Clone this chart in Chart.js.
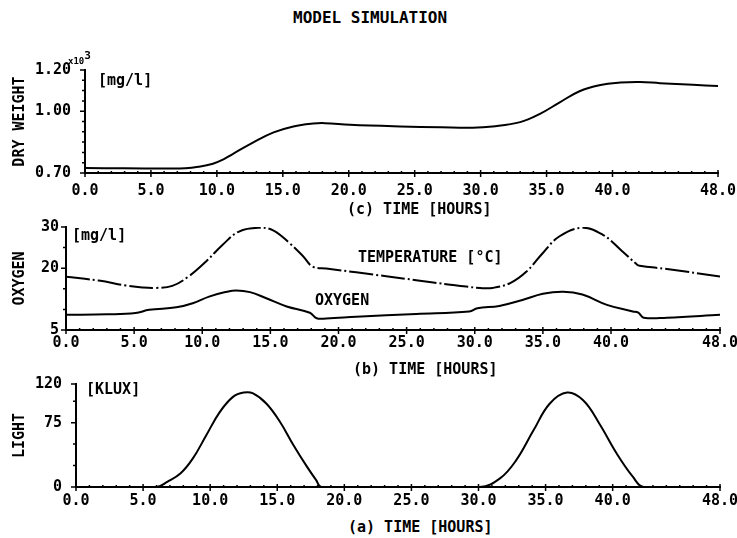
<!DOCTYPE html>
<html>
<head>
<meta charset="utf-8">
<script src="https://cdn.jsdelivr.net/npm/chart.js@4.4.0/dist/chart.umd.min.js"></script>
<style>
  body { margin: 0; background: #fff; }
  #fig { position: relative; width: 737px; height: 538px; background: #fff; overflow: hidden; }
  #fig canvas { position: absolute; left: 0; }
  .lbl { position: absolute; font: bold 15px "DejaVu Sans Mono", monospace; line-height: 15px; white-space: pre; color: #000; }
  .sup { position: relative; top: -5px; font-size: 11px; }
</style>
</head>
<body>
<div id="fig">
  <canvas id="dryChart" width="737" height="150" style="top:50px"></canvas>
  <canvas id="oxyChart" width="737" height="150" style="top:205px"></canvas>
  <canvas id="lightChart" width="737" height="155" style="top:360px"></canvas>

  <div class="lbl" style="left:293px;top:10px;font-size:16px">MODEL SIMULATION</div>

  <div class="lbl" style="left:68px;top:53px;font-size:9px">x10<span class="sup">3</span></div>
  <div class="lbl" style="left:98px;top:73px">[mg/l]</div>
  <div class="lbl" style="left:347px;top:202px">(c) TIME [HOURS]</div>

  <div class="lbl" style="left:72px;top:228px">[mg/l]</div>
  <div class="lbl" style="left:358px;top:250px">TEMPERATURE [°C]</div>
  <div class="lbl" style="left:315px;top:293px">OXYGEN</div>
  <div class="lbl" style="left:353px;top:362px">(b) TIME [HOURS]</div>

  <div class="lbl" style="left:86px;top:382px">[KLUX]</div>
  <div class="lbl" style="left:348px;top:520px">(a) TIME [HOURS]</div>
</div>
<script>
// time axis labels (hours), minor marks every hour
var hourLabels = [0, 5, 10, 15, 20, 25, 30, 35, 40, 48];

// (c) dry weight, x10^3 mg/l
var dryTime   = [0, 3, 6, 7.6, 8.6, 9.7, 10.5, 11.2, 12.8, 14.3, 15.8, 17.3, 18.2, 20.1, 23.9, 27, 29.4, 30.9, 33, 34.5, 36, 37.5, 39, 40.6, 42.1, 43.6, 46.1, 48];
var dryWeight = [0.724, 0.723, 0.722, 0.723, 0.730, 0.745, 0.766, 0.792, 0.850, 0.897, 0.926, 0.940, 0.942, 0.934, 0.926, 0.922, 0.920, 0.926, 0.947, 0.987, 1.043, 1.097, 1.126, 1.139, 1.142, 1.136, 1.128, 1.122];
var dryTicks    = [0.70, 0.75, 0.80, 0.85, 0.90, 0.95, 1.00, 1.05, 1.10, 1.15, 1.20];
var dryLabelled = [0.70, 1.00, 1.20];

// (b) oxygen mg/l and water temperature degC
var oxyTime = [0, 3, 5.1, 6.1, 8.1, 9.3, 10.5, 11.7, 12.5, 13.5, 14.7, 16.2, 17.9, 18.4, 19.1, 21.3, 25.7, 29.6, 30.2, 31.8, 33.5, 35.0, 36.5, 37.9, 39.7, 41.6, 42.0, 42.4, 44.1, 48];
var oxygen  = [8.7, 8.8, 9.1, 9.9, 10.5, 11.5, 13.1, 14.2, 14.6, 14.2, 12.7, 10.7, 9.2, 7.85, 7.8, 8.2, 8.9, 9.5, 10.3, 10.85, 12.3, 13.8, 14.3, 13.6, 11.1, 9.5, 9.2, 8.0, 8.0, 8.7];
var tempTime    = [0, 2.4, 4.4, 5.6, 6.6, 7.8, 9.0, 10.3, 11.5, 12.7, 14.1, 15.2, 16.4, 17.4, 18.1, 19.1, 21.3, 25.7, 28.2, 30.4, 31.3, 32.6, 33.8, 35.0, 36.2, 37.9, 39.4, 40.7, 41.9, 42.1, 44.1, 48];
var temperature = [17.9, 17.0, 15.8, 15.3, 15.2, 15.7, 18.0, 21.7, 25.7, 28.9, 29.8, 29.2, 26.1, 22.9, 20.4, 19.9, 19.0, 17.1, 16.0, 15.2, 15.2, 16.4, 19.2, 23.7, 27.7, 29.8, 28.1, 24.5, 20.9, 20.6, 19.8, 18.0];
var oxyTicks    = [5, 10, 15, 20, 25, 30];
var oxyLabelled = [5, 20, 30];

// (a) light, klux
var lightTime = [0, 6.0, 6.8, 7.8, 8.7, 9.7, 10.7, 11.7, 12.5, 13.2, 14.2, 15.2, 16.2, 17.2, 17.9, 18.3, 30.1, 31.6, 32.8, 34.1, 35.3, 36.6, 37.8, 39.0, 40.3, 41.5, 42.3, 48];
var light     = [0, 0, 6, 16, 33, 60, 87, 105, 110, 109, 97, 76, 49, 24, 8, 0, 0, 10, 31, 66, 97, 110, 101, 74, 39, 12, 0, 0];
var lightTicks    = [0, 25, 50, 75, 100, 120];
var lightLabelled = [0, 75, 120];

var font = { family: '"DejaVu Sans Mono", monospace', size: 15, weight: 'bold', lineHeight: 1.2 };

function points(xs, ys) {
    var out = [];
    for (var i = 0; i < xs.length; i++) out.push({ x: xs[i], y: ys[i] });
    return out;
}

// plotter style tick marks: every hour on the time axis, every tick on the value axis
var tickMarks = {
    id: 'tickMarks',
    afterDraw: function(chart) {
        var ctx = chart.ctx, x = chart.scales.x, y = chart.scales.y;
        ctx.save();
        ctx.strokeStyle = '#000';
        ctx.lineWidth = 1.5;
        ctx.beginPath();
        for (var h = 0; h <= 48; h++) {
            var px = x.getPixelForValue(h);
            var major = hourLabels.indexOf(h) >= 0;
            ctx.moveTo(px, y.bottom + (major ? 4 : 0));
            ctx.lineTo(px, y.bottom - (major ? 3 : 2));
        }
        y.ticks.forEach(function(t) {
            var py = y.getPixelForValue(t.value);
            ctx.moveTo(x.left, py);
            ctx.lineTo(x.left - (t.label ? 5 : 3), py);
        });
        ctx.stroke();
        ctx.restore();
    }
};

function makePanel(id, o) {
    return new Chart(document.getElementById(id), {
        type: 'line',
        data: { datasets: o.datasets },
        options: {
            responsive: false,
            animation: false,
            layout: { padding: { top: o.top, right: 737 - o.right, left: 0, bottom: 0 } },
            plugins: { legend: { display: false }, tooltip: { enabled: false } },
            elements: {
                point: { radius: 0 },
                line: { borderColor: '#000', borderWidth: 2, tension: 0.4, fill: false }
            },
            scales: {
                x: {
                    type: 'linear', min: 0, max: 48,
                    grid: { display: false, drawTicks: false },
                    border: { color: '#000', width: 2 },
                    ticks: { font: font, color: '#000', padding: o.xPad, autoSkip: false, maxRotation: 0,
                             callback: function(v) { return v.toFixed(1); } },
                    afterBuildTicks: function(s) { s.ticks = hourLabels.map(function(v) { return { value: v }; }); },
                    afterFit: function(s) { s.height = o.xHeight; s.paddingLeft = 0; s.paddingRight = 0; }
                },
                y: {
                    type: 'linear', min: o.yTicks[0], max: o.yTicks[o.yTicks.length - 1],
                    grid: { display: false, drawTicks: false },
                    border: { color: '#000', width: 2 },
                    title: { display: true, text: o.title, font: font, color: '#000', padding: { top: 11, bottom: 0 } },
                    ticks: { font: font, color: '#000', padding: o.yPad, autoSkip: false,
                             callback: function(v) {
                                 var hit = o.labelled.some(function(l) { return Math.abs(l - v) < 1e-6; });
                                 return hit ? v.toFixed(o.digits) : '';
                             } },
                    afterBuildTicks: function(s) { s.ticks = o.yTicks.map(function(v) { return { value: v }; }); },
                    afterFit: function(s) { s.width = o.left; s.paddingTop = 0; s.paddingBottom = 0; }
                }
            }
        },
        plugins: [tickMarks]
    });
}

makePanel('dryChart', {
    top: 20, left: 85, right: 718, xHeight: 27, xPad: 9, yPad: 14,
    title: 'DRY WEIGHT', yTicks: dryTicks, labelled: dryLabelled, digits: 2,
    datasets: [{ data: points(dryTime, dryWeight) }]
});

makePanel('oxyChart', {
    top: 22, left: 66, right: 720, xHeight: 25, xPad: 4, yPad: 7,
    title: 'OXYGEN', yTicks: oxyTicks, labelled: oxyLabelled, digits: 0,
    datasets: [
        { data: points(tempTime, temperature), borderDash: [24, 3, 2, 3] },
        { data: points(oxyTime, oxygen) }
    ]
});

makePanel('lightChart', {
    top: 24, left: 76, right: 720, xHeight: 28, xPad: 5, yPad: 14,
    title: 'LIGHT', yTicks: lightTicks, labelled: lightLabelled, digits: 0,
    datasets: [{ data: points(lightTime, light) }]
});
</script>
</body>
</html>
